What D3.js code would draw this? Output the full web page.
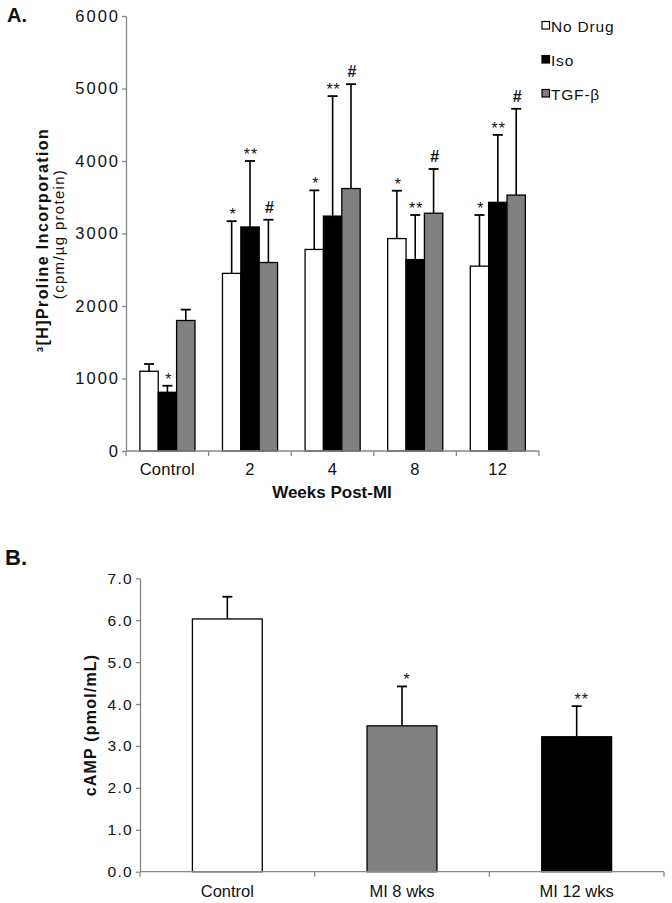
<!DOCTYPE html>
<html>
<head>
<meta charset="utf-8">
<script src="https://cdn.jsdelivr.net/npm/d3@7/dist/d3.min.js"></script>
<style>
  html, body { margin: 0; padding: 0; background: #fff; }
  svg { display: block; font-family: "Liberation Sans", Arial, sans-serif; }
</style>
</head>
<body>
<svg id="chart" width="672" height="903"></svg>
<script>
// ---------- Panel A data ----------
const weeksA = ["Control", "2", "4", "8", "12"];
const seriesA = ["No Drug", "Iso", "TGF-β"];
const noDrugMean = [1100, 2450, 2780, 2930, 2550];
const noDrugErr  = [100, 720, 815, 660, 705];
const isoMean    = [810, 3090, 3240, 2640, 3430];
const isoErr     = [90, 910, 1655, 615, 930];
const tgfMean    = [1800, 2600, 3620, 3280, 3530];
const tgfErr     = [150, 590, 1440, 610, 1190];
const noDrugSig  = ["", "*", "*", "*", "*"];
const isoSig     = ["*", "**", "**", "**", "**"];
const tgfSig     = ["", "#", "#", "#", "#"];
const ticksA = [0, 1000, 2000, 3000, 4000, 5000, 6000];

// ---------- Panel B data ----------
const groupsB = ["Control", "MI 8 wks", "MI 12 wks"];
const campMean = [6.03, 3.48, 3.22];
const campErr  = [0.53, 0.94, 0.73];
const campSig  = ["", "*", "**"];
const ticksB = [0, 1, 2, 3, 4, 5, 6, 7];

const seriesColors = ["#ffffff", "#000000", "#808080"];
const groupColorsB = ["#ffffff", "#808080", "#000000"];
const axisColor = "#888888";
const textColor = "#111111";

const svg = d3.select("#chart");

// ================= PANEL A =================
const A = { left: 126, right: 539, top: 16, bottom: 451 };
const xA = d3.scaleBand().domain(weeksA).range([A.left, A.right]).padding(0);
const bwA = xA.bandwidth();
const x1A = d3.scaleBand().domain(seriesA).range([bwA * 0.168, bwA * 0.835]).padding(0);
const yA = d3.scaleLinear().domain([0, 6000]).range([A.bottom, A.top]);

const gA = svg.append("g");

// y axis
const yAxisA = gA.append("g")
  .attr("transform", `translate(${A.left},0)`)
  .call(d3.axisLeft(yA).tickValues(ticksA).tickFormat(d3.format("d")).tickSize(4).tickSizeOuter(0));
yAxisA.select(".domain").attr("stroke", axisColor).attr("stroke-width", 1.3);
yAxisA.selectAll(".tick line").attr("stroke", axisColor).attr("stroke-width", 1.3);
yAxisA.selectAll(".tick text")
  .attr("x", -6).attr("fill", textColor)
  .style("font-size", "16.5px").style("letter-spacing", "2px");

const tableA = weeksA.map((w, i) => ({
  week: w,
  vals: [
    { s: seriesA[0], m: noDrugMean[i], e: noDrugErr[i], sig: noDrugSig[i], c: seriesColors[0] },
    { s: seriesA[1], m: isoMean[i], e: isoErr[i], sig: isoSig[i], c: seriesColors[1] },
    { s: seriesA[2], m: tgfMean[i], e: tgfErr[i], sig: tgfSig[i], c: seriesColors[2] }
  ]
}));

const groups = gA.selectAll(".grp").data(tableA).enter().append("g")
  .attr("transform", d => `translate(${xA(d.week)},0)`);

// error bars (upper only)
groups.selectAll(".err").data(d => d.vals).enter().append("line")
  .attr("x1", d => x1A(d.s) + x1A.bandwidth() / 2)
  .attr("x2", d => x1A(d.s) + x1A.bandwidth() / 2)
  .attr("y1", d => yA(d.m))
  .attr("y2", d => yA(d.m + d.e))
  .attr("stroke", "#000").attr("stroke-width", 1.6);
groups.selectAll(".cap").data(d => d.vals).enter().append("line")
  .attr("x1", d => x1A(d.s) + x1A.bandwidth() / 2 - 5)
  .attr("x2", d => x1A(d.s) + x1A.bandwidth() / 2 + 5)
  .attr("y1", d => yA(d.m + d.e))
  .attr("y2", d => yA(d.m + d.e))
  .attr("stroke", "#000").attr("stroke-width", 1.8);

groups.selectAll("rect").data(d => d.vals).enter().append("rect")
  .attr("x", d => x1A(d.s))
  .attr("y", d => yA(d.m))
  .attr("width", x1A.bandwidth())
  .attr("height", d => yA(0) - yA(d.m))
  .attr("fill", d => d.c)
  .attr("stroke", "#000").attr("stroke-width", 1.3);

groups.selectAll(".sig").data(d => d.vals.filter(v => v.sig)).enter().append("text")
  .attr("x", d => x1A(d.s) + x1A.bandwidth() / 2 + 1)
  .attr("y", d => yA(d.m + d.e) - (d.sig === "#" ? 7 : 1))
  .attr("text-anchor", "middle")
  .attr("fill", textColor)
  .style("font-size", d => d.sig === "#" ? "16px" : "16px")
  .style("font-weight", d => d.sig === "#" ? "bold" : "normal")
  .style("letter-spacing", d => d.sig === "**" ? "1px" : "0px")
  .text(d => d.sig);

// x axis
const xAxisA = gA.append("g").attr("transform", `translate(0,${A.bottom})`);
xAxisA.append("line").attr("x1", A.left).attr("x2", A.right)
  .attr("stroke", axisColor).attr("stroke-width", 1.3);
const boundsA = weeksA.map(w => xA(w)).concat([A.right]);
xAxisA.selectAll(".bt").data(boundsA).enter().append("line")
  .attr("x1", d => d).attr("x2", d => d).attr("y1", 0).attr("y2", 5)
  .attr("stroke", axisColor).attr("stroke-width", 1.3);
xAxisA.selectAll(".lbl").data(weeksA).enter().append("text")
  .attr("x", d => xA(d) + bwA / 2).attr("y", 24)
  .attr("text-anchor", "middle").attr("fill", textColor)
  .style("font-size", "16.5px").style("letter-spacing", "0.3px")
  .text(d => d);

gA.append("text").attr("x", 332).attr("y", 498).attr("text-anchor", "middle")
  .attr("fill", textColor).style("font-size", "17px").style("font-weight", "bold")
  .text("Weeks Post-MI");

gA.append("text").attr("transform", "translate(48,240) rotate(-90)")
  .attr("text-anchor", "middle").attr("fill", textColor)
  .style("font-size", "16px").style("font-weight", "bold").style("letter-spacing", "1.4px")
  .text("³[H]Proline Incorporation");
gA.append("text").attr("transform", "translate(64,234) rotate(-90)")
  .attr("text-anchor", "middle").attr("fill", textColor)
  .style("font-size", "15px").style("letter-spacing", "1.3px")
  .text("(cpm/µg protein)");

gA.append("text").attr("x", 7).attr("y", 22).attr("fill", textColor)
  .style("font-size", "20px").style("font-weight", "bold").text("A.");

// legend
const legend = gA.append("g");
const legendY = [26, 60, 94];
seriesA.forEach((s, i) => {
  legend.append("rect").attr("x", 542).attr("y", legendY[i] - 4.5)
    .attr("width", 7.5).attr("height", 7.5)
    .attr("fill", seriesColors[i]).attr("stroke", "#000").attr("stroke-width", 1.2);
  legend.append("text").attr("x", 551).attr("y", legendY[i] + 5.5)
    .attr("fill", textColor).style("font-size", "15.5px").style("letter-spacing", "0.8px")
    .text(s);
});

// ================= PANEL B =================
const B = { left: 140, right: 664, top: 578.3, bottom: 871.7 };
const xB = d3.scaleBand().domain(groupsB).range([B.left, B.right]).padding(0);
const bwB = xB.bandwidth();
const yB = d3.scaleLinear().domain([0, 7]).range([B.bottom, B.top]);
const barW = bwB * 0.4;

const gB = svg.append("g");
const yAxisB = gB.append("g")
  .attr("transform", `translate(${B.left},0)`)
  .call(d3.axisLeft(yB).tickValues(ticksB).tickFormat(d3.format(".1f")).tickSize(4).tickSizeOuter(0));
yAxisB.select(".domain").attr("stroke", axisColor).attr("stroke-width", 1.3);
yAxisB.selectAll(".tick line").attr("stroke", axisColor).attr("stroke-width", 1.3);
yAxisB.selectAll(".tick text")
  .attr("x", -7).attr("fill", textColor)
  .style("font-size", "15.5px").style("letter-spacing", "1.3px");

const tableB = groupsB.map((g, i) => ({ g, m: campMean[i], e: campErr[i], sig: campSig[i], c: groupColorsB[i] }));

gB.selectAll(".errB").data(tableB).enter().append("line")
  .attr("x1", d => xB(d.g) + bwB / 2).attr("x2", d => xB(d.g) + bwB / 2)
  .attr("y1", d => yB(d.m)).attr("y2", d => yB(d.m + d.e))
  .attr("stroke", "#000").attr("stroke-width", 1.6);
gB.selectAll(".capB").data(tableB).enter().append("line")
  .attr("x1", d => xB(d.g) + bwB / 2 - 5).attr("x2", d => xB(d.g) + bwB / 2 + 5)
  .attr("y1", d => yB(d.m + d.e)).attr("y2", d => yB(d.m + d.e))
  .attr("stroke", "#000").attr("stroke-width", 1.8);
gB.selectAll("rect").data(tableB).enter().append("rect")
  .attr("x", d => xB(d.g) + (bwB - barW) / 2)
  .attr("y", d => yB(d.m))
  .attr("width", barW)
  .attr("height", d => yB(0) - yB(d.m))
  .attr("fill", d => d.c).attr("stroke", "#000").attr("stroke-width", 1.3);
gB.selectAll(".sigB").data(tableB.filter(d => d.sig)).enter().append("text")
  .attr("x", d => xB(d.g) + bwB / 2 + 5)
  .attr("y", d => yB(d.m + d.e) - 1)
  .attr("text-anchor", "middle").attr("fill", textColor)
  .style("font-size", "16px").style("letter-spacing", "1px")
  .text(d => d.sig);

const xAxisB = gB.append("g").attr("transform", `translate(0,${B.bottom})`);
xAxisB.append("line").attr("x1", B.left).attr("x2", B.right)
  .attr("stroke", axisColor).attr("stroke-width", 1.3);
const boundsB = groupsB.map(g => xB(g)).concat([B.right]);
xAxisB.selectAll(".bt").data(boundsB).enter().append("line")
  .attr("x1", d => d).attr("x2", d => d).attr("y1", 0).attr("y2", 5)
  .attr("stroke", axisColor).attr("stroke-width", 1.3);
xAxisB.selectAll(".lbl").data(groupsB).enter().append("text")
  .attr("x", d => xB(d) + bwB / 2).attr("y", 25)
  .attr("text-anchor", "middle").attr("fill", textColor)
  .style("font-size", "16.5px")
  .text(d => d);

gB.append("text").attr("transform", "translate(96,725) rotate(-90)")
  .attr("text-anchor", "middle").attr("fill", textColor)
  .style("font-size", "16px").style("font-weight", "bold").style("letter-spacing", "1.2px")
  .text("cAMP (pmol/mL)");

gB.append("text").attr("x", 5).attr("y", 565).attr("fill", textColor)
  .style("font-size", "22px").style("font-weight", "bold").text("B.");
</script>
</body>
</html>
